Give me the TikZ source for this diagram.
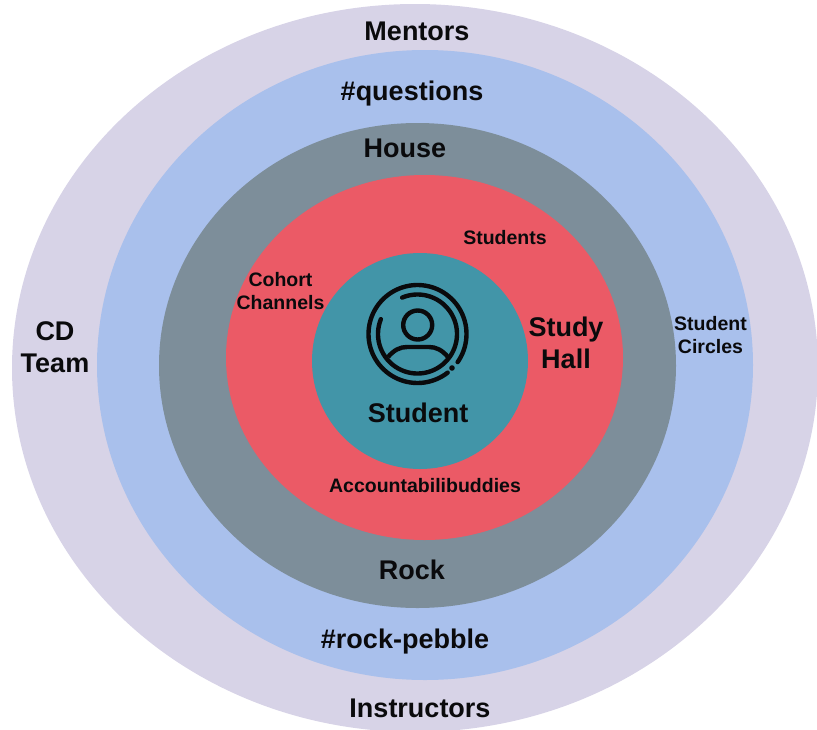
\documentclass[tikz,border=0pt]{standalone}
\usepackage{fontspec}
\setmainfont{Liberation Sans}
\definecolor{ringa}{HTML}{D7D3E7}
\definecolor{ringb}{HTML}{A9C0EC}
\definecolor{ringc}{HTML}{7D8E9A}
\definecolor{ringd}{HTML}{EB5A66}
\definecolor{ringe}{HTML}{4295A8}
\definecolor{ink}{HTML}{0A0A0C}
\tikzset{
  lab/.style={text=ink,align=center,inner sep=0pt,font=\fontsize{27}{32}\selectfont\bfseries},
  labsmall/.style={text=ink,align=center,inner sep=0pt,font=\fontsize{19.5}{23}\selectfont\bfseries},
  iconline/.style={draw=ink,line width=4.4pt,line cap=round,fill=none}
}
\begin{document}
\begin{tikzpicture}[x=1pt,y=-1pt]
\useasboundingbox (0,0) rectangle (817,729);
\begin{scope}
\clip (0,0) rectangle (817,729);
\fill[ringa] (415,368) ellipse [x radius=403pt,y radius=364pt];
\fill[ringb] (425,365) ellipse [x radius=328pt,y radius=315pt];
\fill[ringc] (417.5,365.5) ellipse [x radius=258.5pt,y radius=242.5pt];
\fill[ringd] (424.5,357.5) ellipse [x radius=198.5pt,y radius=182.5pt];
\fill[ringe] (420,361) ellipse [x radius=108pt,y radius=108pt];
\end{scope}
% icon
\draw[iconline] plot[domain=-35:308,samples=90,smooth] ({417.5+49*cos(\x)},{334-49*sin(\x)});
\draw[iconline] plot[domain=113:-202,samples=90,smooth] ({417.5+39.5*cos(\x)},{334-39.5*sin(\x)});
\draw[iconline] (417.7,325) circle [radius=14.5pt];
\draw[iconline,line cap=butt] (388,357) .. controls (394,350) and (400,347) .. (407,347) -- (429,347) .. controls (436,347) and (442,350) .. (448,357);
\fill[ink] (452,368) circle [radius=2.8pt];
% labels
\node[lab] (mentors) at (417,31) {Mentors};
\node[lab] (questions) at (412,94) {\#questions};
\node[lab] (house) at (405,148) {House};
\node[labsmall] (students) at (505,238) {Students};
\node[labsmall] (cohort) at (280.5,291) {Cohort\\Channels};
\node[lab] (studyhall) at (566,343) {Study\\Hall};
\node[labsmall] (circles) at (710.5,335) {Student\\Circles};
\node[lab] (cdteam) at (55,347) {CD\\Team};
\node[lab] (student) at (418,413) {Student};
\node[labsmall] (buddies) at (425,486) {Accountabilibuddies};
\node[lab] (rock) at (412,570) {Rock};
\node[lab] (pebble) at (405,642) {\#rock-pebble};
\node[lab] (instructors) at (420,708) {Instructors};
\end{tikzpicture}
\end{document}
